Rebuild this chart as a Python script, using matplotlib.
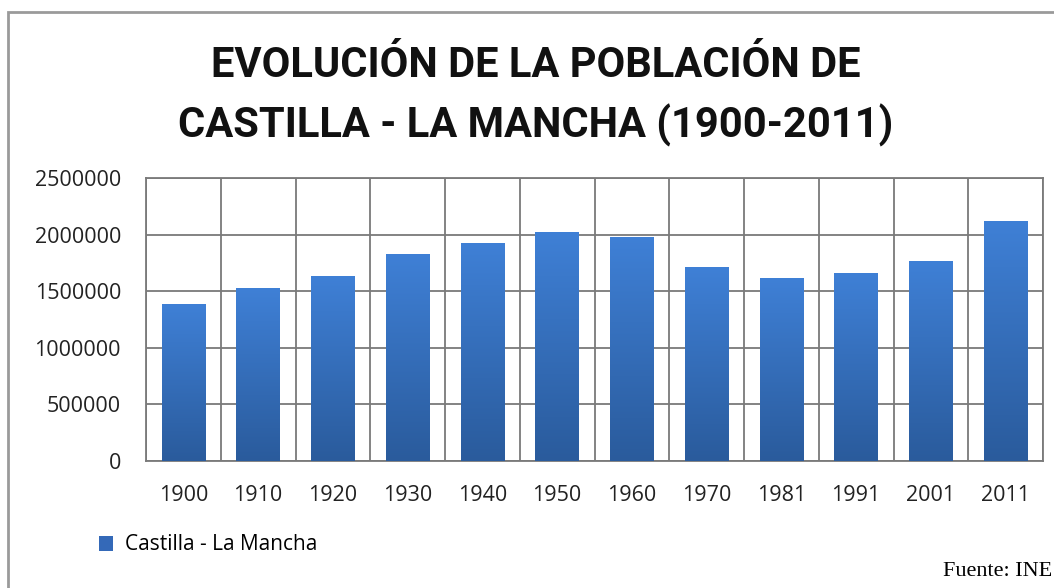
import matplotlib.pyplot as plt
import numpy as np
from matplotlib.colors import LinearSegmentedColormap
from matplotlib.patches import Rectangle, Patch

# data
years = ["1900", "1910", "1920", "1930", "1940", "1950",
         "1960", "1970", "1981", "1991", "2001", "2011"]
population = [1383000, 1527000, 1634000, 1826000, 1924000, 2021000,
              1971000, 1705000, 1616000, 1652000, 1761000, 2113000]
yticks = [0, 500000, 1000000, 1500000, 2000000, 2500000]
title = "EVOLUCIÓN DE LA POBLACIÓN DE\nCASTILLA - LA MANCHA (1900-2011)"
series_name = "Castilla - La Mancha"
source = "Fuente: INE"

plt.rcParams["font.family"] = ["Open Sans", "DejaVu Sans"]

fig = plt.figure(figsize=(10.54, 5.88), dpi=100)
ax = fig.add_axes([146 / 1054, 1 - 461 / 588, (1043 - 146) / 1054, (461 - 178) / 588])

x = np.arange(len(years))
bars = ax.bar(x, population, width=0.58, color="none", zorder=3)

# vertical gradient on each bar
grad_cmap = LinearSegmentedColormap.from_list("bar", ["#2a5b9c", "#3f80d6"])
grad = np.linspace(0, 1, 256).reshape(-1, 1)
for b in bars:
    bx, bw, bh = b.get_x(), b.get_width(), b.get_height()
    ax.imshow(grad, extent=[bx, bx + bw, 0, bh], origin="lower",
              aspect="auto", cmap=grad_cmap, zorder=3)

ax.set_xlim(-0.5, len(years) - 0.5)
ax.set_ylim(0, 2500000)
ax.set_yticks(yticks)
ax.set_yticklabels([str(v) for v in yticks])
ax.set_xticks(x)
ax.set_xticklabels(years)
ax.set_xticks(np.arange(-0.5, len(years)), minor=True)

ax.grid(axis="y", which="major", color="#7a7a7a", linewidth=1.3, zorder=1)
ax.grid(axis="x", which="minor", color="#7a7a7a", linewidth=1.3, zorder=1)
ax.tick_params(which="both", length=0)
ax.tick_params(axis="y", pad=18, labelsize=15.5, labelcolor="#222222")
ax.tick_params(axis="x", pad=17, labelsize=15.5, labelcolor="#222222")
for s in ax.spines.values():
    s.set_color("#7a7a7a")
    s.set_linewidth(1.3)

fig.text(0.508, 1 - 96 / 588, title, ha="center", va="center",
         fontsize=30, fontweight="bold", linespacing=1.55, color="#111111",
         family=["Roboto", "DejaVu Sans"])

fig.legend(handles=[Patch(facecolor="#3469b8", label=series_name)],
           loc="center left", bbox_to_anchor=(80 / 1054, 1 - 545 / 588),
           frameon=False, fontsize=15, handlelength=0.7, handleheight=0.7,
           handletextpad=0.55)

fig.text(1052 / 1054, 1 - 571 / 588, source, ha="right", va="center",
         fontsize=16, family=["Liberation Serif", "DejaVu Serif"])

# outer frame of the chart image
fig.patches.append(Rectangle((8 / 1054, -0.05), 1.2, 1 - 12 / 588 + 0.05,
                             transform=fig.transFigure, fill=False,
                             edgecolor="#9a9a9a", linewidth=2))

fig.savefig("out.png", dpi=100)
